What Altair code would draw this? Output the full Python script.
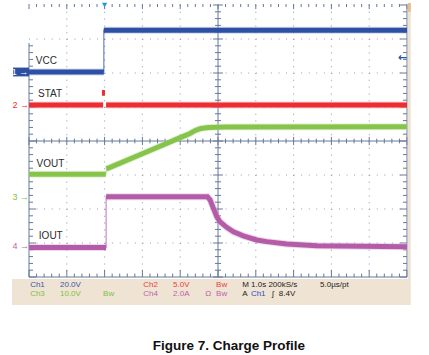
import altair as alt
import numpy as np
import pandas as pd

# ---- scope screen data: x = time (s, 1.0 s/div, trigger at 0), y = vertical divisions (centre = 0)
VCC_T = [-2.0, -0.02, -0.02, 8.0]
VCC_V = [2.03, 2.03, 3.26, 3.26]
VCC_SEG = [0, 0, 1, 1]

STAT_T = [-2.0, -0.04, 0.04, 8.0]
STAT_V = [1.06, 1.06, 1.06, 1.06]
STAT_SEG = [0, 0, 1, 1]
STAT_BLIP_T = [-0.03, -0.03]
STAT_BLIP_V = [1.33, 1.5]

VOUT_T = [-2.0, 0.03, 0.05, 1.2, 2.0, 2.26, 2.4, 2.55, 2.75, 3.2, 8.0]
VOUT_V = [-0.98, -0.98, -0.82, -0.28, 0.10, 0.22, 0.31, 0.37, 0.40, 0.41, 0.42]
VOUT_SEG = [0, 0, 1, 1, 1, 1, 1, 1, 1, 1, 1]

IOUT_T = [-2.0, 0.04, 0.04, 2.72, 2.79, 2.88, 2.97, 3.05, 3.23, 3.41, 3.67, 4.02, 4.29, 4.82, 5.61, 8.0]
IOUT_V = [-3.13, -3.13, -1.64, -1.64, -1.73, -1.98, -2.23, -2.37, -2.54, -2.67, -2.79, -2.91, -2.96, -3.03, -3.08, -3.11]
IOUT_SEG = [0, 0] + [1] * 14

LABELS = ["VCC", "STAT", "VOUT", "IOUT"]
LABEL_T = [-1.82, -1.76, -1.80, -1.74]
LABEL_V = [2.35, 1.38, -0.69, -2.79]

MARK_TEXT = ["2 \u2192", "3 \u2192", "4 \u2192"]
MARK_V = [1.06, -1.64, -3.09]
MARK_COL = ["#ee2d33", "#7cc242", "#c060b0"]

FOOT_TEXT = ["Ch1", "20.0V", "Ch2", "5.0V", "Bw", "M 1.0s 200kS/s", "5.0\u00b5s/pt",
             "Ch3", "10.0V", "Bw", "Ch4", "2.0A", "\u03a9", "Bw", "A", "Ch1", "\u0283", "8.4V"]
FOOT_T = [-1.97, -1.18, 1.02, 1.81, 2.95, 3.64, 5.70,
          -1.97, -1.18, -0.04, 1.02, 1.81, 2.66, 2.95, 3.64, 3.87, 4.43, 4.61]
FOOT_ROW = [0, 0, 0, 0, 0, 0, 0, 1, 1, 1, 1, 1, 1, 1, 1, 1, 1, 1]
FOOT_COL = ["#3b56a8", "#3b56a8", "#e8413c", "#e8413c", "#e8413c", "#222222", "#222222",
            "#7cc242", "#7cc242", "#7cc242", "#c060b0", "#c060b0", "#c060b0", "#c060b0",
            "#222222", "#2d50c0", "#222222", "#222222"]

TITLE = "Figure 7. Charge Profile"

# ---- scales
XS = alt.Scale(domain=[-2, 8], nice=False, zero=False)
YS = alt.Scale(domain=[-4, 4], nice=False, zero=False)


def X(f="t"):
    return alt.X(f"{f}:Q", scale=XS, axis=None)


def Y(f="v"):
    return alt.Y(f"{f}:Q", scale=YS, axis=None)


SLATE = "#66789a"

# ---- graticule
grid_v = pd.DataFrame({"t": [-1, 0, 1, 2, 4, 5, 6, 7]})
grid_v["t2"] = grid_v["t"]
grid_v["v"] = 4.0
grid_v["v2"] = -4.0
grid_h = pd.DataFrame({"v": [-3, -2, -1, 1, 2, 3]})
grid_h["v2"] = grid_h["v"]
grid_h["t"] = -2.0
grid_h["t2"] = 8.0

rows = [(3, 3, 4, -4), (-2, 8, 0, 0), (-2, -2, 2.88, -4), (8, 8, 4, -4), (-2, 8, -4, -4)]
for y in np.round(np.arange(-4, 4.001, 0.2), 3):
    major = abs(y - round(y)) < 1e-6
    h = 0.13 if major else 0.08
    rows.append((3 - h, 3 + h, y, y))
    if y <= 2.88:
        rows.append((-2, -1.815 if major else -1.894, y, y))
    rows.append((8, 7.815 if major else 7.894, y, y))
for t in np.round(np.arange(-2, 8.001, 0.2), 3):
    major = abs(t - round(t)) < 1e-6
    k = 0.12 if major else 0.07
    rows.append((t, t, -k, k))
    rows.append((t, t, 4.03, 3.88 if major else 3.94))
    rows.append((t, t, -4.0, -3.79 if major else -3.9))
solid = pd.DataFrame(rows, columns=["t", "t2", "v", "v2"])

layers = []
layers.append(alt.Chart(grid_v).mark_rule(color="#949db2", strokeWidth=1.1, strokeDash=[1, 5.8]).encode(
    x=X("t"), x2=alt.X2("t2:Q"), y=Y("v"), y2=alt.Y2("v2:Q")))
layers.append(alt.Chart(grid_h).mark_rule(color="#949db2", strokeWidth=1.1, strokeDash=[1, 6.56]).encode(
    x=X("t"), x2=alt.X2("t2:Q"), y=Y("v"), y2=alt.Y2("v2:Q")))
layers.append(alt.Chart(solid).mark_rule(color=SLATE, strokeWidth=1).encode(
    x=X("t"), x2=alt.X2("t2:Q"), y=Y("v"), y2=alt.Y2("v2:Q")))

# right tan strip and footer band
strip = pd.DataFrame({"t": [8.02, 8.02], "t2": [8.1, 8.1], "v": [4.06, 4.06], "v2": [-4.06, 3.8],
                      "c": ["#eee3d2", "#e8bd8f"]})
layers.append(alt.Chart(strip).mark_rect().encode(
    x=X("t"), x2=alt.X2("t2:Q"), y=Y("v"), y2=alt.Y2("v2:Q"), color=alt.Color("c:N", scale=None)))
foot = pd.DataFrame({"t": [-2.45], "t2": [8.1], "v": [-4.06], "v2": [-4.82]})
layers.append(alt.Chart(foot).mark_rect(color="#efe4d3").encode(
    x=X("t"), x2=alt.X2("t2:Q"), y=Y("v"), y2=alt.Y2("v2:Q")))


def trace(ts, vs, segs, core, fringe):
    df = pd.DataFrame({"t": ts, "v": vs, "seg": segs, "i": range(len(ts))})
    out = []
    out.append(alt.Chart(df).mark_line(color=fringe, strokeWidth=7, opacity=0.45, strokeCap="butt").encode(
        x=X(), y=Y(), detail="seg:N", order="i:Q"))
    out.append(alt.Chart(df).mark_line(color=core, strokeWidth=5, strokeCap="butt").encode(
        x=X(), y=Y(), detail="seg:N", order="i:Q"))
    out.append(alt.Chart(df).mark_line(color=core, strokeWidth=1.2, opacity=0.7).encode(
        x=X(), y=Y(), order="i:Q"))
    return out


layers += trace(VCC_T, VCC_V, VCC_SEG, "#2d50a5", "#9aaedb")
layers += trace(STAT_T, STAT_V, STAT_SEG, "#ee2d33", "#f6a3a5")[:2]
blip = pd.DataFrame({"t": STAT_BLIP_T, "v": STAT_BLIP_V})
layers.append(alt.Chart(blip).mark_line(color="#ee2d33", strokeWidth=3, strokeCap="butt").encode(x=X(), y=Y()))
layers += trace(VOUT_T, VOUT_V, VOUT_SEG, "#86c44c", "#c5e3a8")
layers += trace(IOUT_T, IOUT_V, IOUT_SEG, "#b45ca7", "#dcaad4")

# channel labels
lab = pd.DataFrame({"t": LABEL_T, "v": LABEL_V, "txt": LABELS})
layers.append(alt.Chart(lab).mark_text(align="left", baseline="middle", fontSize=10,
                                         font="Liberation Sans", color="#2b2b2b").encode(
    x=X(), y=Y(), text="txt:N"))

# channel 1 marker box
box = pd.DataFrame({"t": [-2.42], "t2": [-2.0], "v": [2.16], "v2": [1.90]})
layers.append(alt.Chart(box).mark_rect(color="#2d50a5").encode(
    x=X("t"), x2=alt.X2("t2:Q"), y=Y("v"), y2=alt.Y2("v2:Q")))
m1 = pd.DataFrame({"t": [-2.02], "v": [2.03], "txt": ["1 \u2192"]})
layers.append(alt.Chart(m1).mark_text(align="right", baseline="middle", fontSize=9,
                                        font="Liberation Sans", color="white").encode(
    x=X(), y=Y(), text="txt:N"))
mk = pd.DataFrame({"t": [-2.0] * 3, "v": MARK_V, "txt": MARK_TEXT, "c": MARK_COL})
layers.append(alt.Chart(mk).mark_text(align="right", baseline="middle", fontSize=9,
                                        font="Liberation Sans").encode(
    x=X(), y=Y(), text="txt:N", color=alt.Color("c:N", scale=None)))

# trigger level arrow and trigger position marker
trg = pd.DataFrame({"t": [8.0], "v": [2.44], "txt": ["\u2190"]})
layers.append(alt.Chart(trg).mark_text(align="right", baseline="middle", fontSize=11, fontWeight="bold",
                                         font="DejaVu Sans", color="#2d50a5").encode(
    x=X(), y=Y(), text="txt:N"))
tpos = pd.DataFrame({"t": [0.0], "v": [4.0]})
layers.append(alt.Chart(tpos).mark_point(shape="triangle-down", filled=True, size=28, color="#1f9ad6",
                                          opacity=1).encode(x=X(), y=Y()))

# footer readouts
ft = pd.DataFrame({"t": FOOT_T, "row": FOOT_ROW, "txt": FOOT_TEXT, "c": FOOT_COL})
ft["v"] = np.where(ft["row"] == 0, -4.235, -4.5)
layers.append(alt.Chart(ft).mark_text(align="left", baseline="middle", fontSize=8,
                                        font="Liberation Sans").encode(
    x=X(), y=Y(), text="txt:N", color=alt.Color("c:N", scale=None)))

ttl = pd.DataFrame({"t": [3.29], "v": [-6.03], "txt": [TITLE]})
layers.append(alt.Chart(ttl).mark_text(align="center", baseline="middle", fontSize=13.5, fontWeight="bold",
                                         font="Liberation Sans", color="#111111").encode(
    x=X(), y=Y(), text="txt:N"))

chart = alt.layer(*layers).properties(
    width=378, height=272,
    autosize=alt.AutoSizeParams(type="none"),
    padding={"left": 29, "top": 5, "right": 22, "bottom": 78},
    background="white",
).configure_view(strokeWidth=0)

chart.save("out.html", embed_options={"renderer": "svg", "actions": False})
